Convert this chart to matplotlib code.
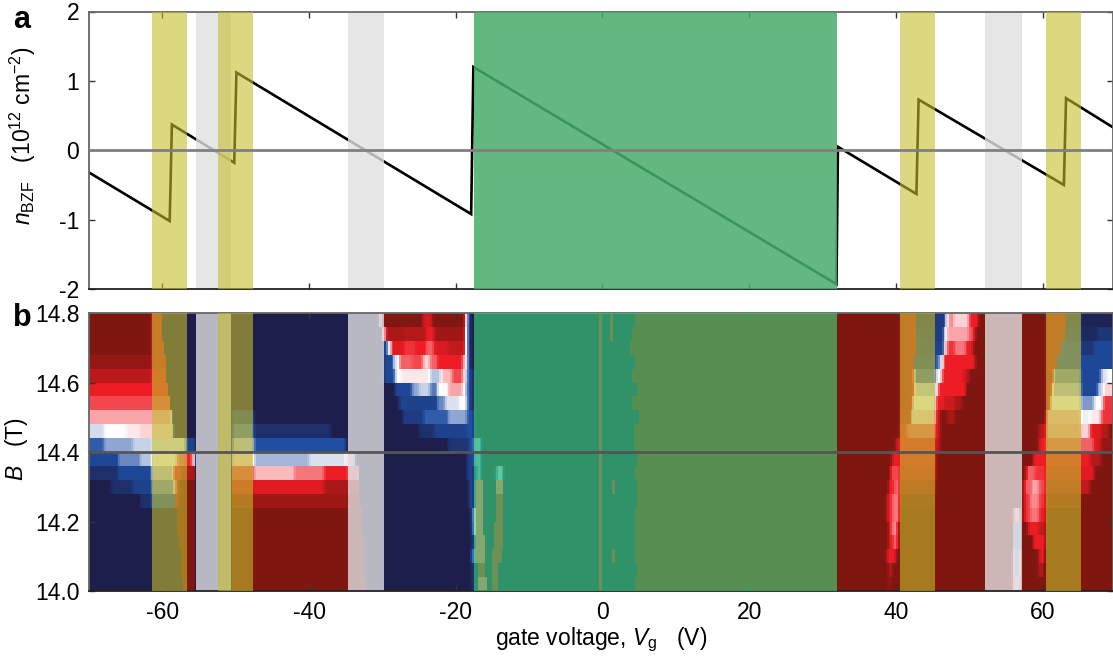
import numpy as np
import matplotlib
matplotlib.use('Agg')
import matplotlib.pyplot as plt
from matplotlib.colors import LinearSegmentedColormap

plt.rcParams['font.family'] = ['Liberation Sans', 'DejaVu Sans']
plt.rcParams['mathtext.fontset'] = 'custom'
plt.rcParams['mathtext.rm'] = 'Liberation Sans'
plt.rcParams['mathtext.it'] = 'Liberation Sans:italic'
plt.rcParams['axes.unicode_minus'] = False

# panel a: sawtooth of n_BZF against gate voltage
curve_v = [-70, -59, -58.7, -50.2, -49.9, -17.9, -17.6, 31.9, 32.1, 42.8, 43.1, 62.9, 63.2, 69.6]
curve_n = [-0.32, -1.02, 0.37, -0.18, 1.12, -0.92, 1.2, -1.93, 0.05, -0.63, 0.73, -0.5, 0.75, 0.33]

yellow_bands = [(-61.4, -56.6), (-52.4, -47.6), (40.5, 45.4), (60.5, 65.3)]
gray_bands = [(-55.4, -50.6), (-34.7, -29.8), (52.2, 57.2)]
green_band = (-17.5, 32)

x_ticks = [-60, -40, -20, 0, 20, 40, 60]
n_ticks = [-2, -1, 0, 1, 2]
b_ticks = [14.0, 14.2, 14.4, 14.6, 14.8]

# panel b: one list per field row, top to bottom, (end voltage, value) runs
left_rows = [
    [(-61.4, 1), (-60.05, .65), (-30.5, -1), (-30, 0), (-24.4, .98), (-23.2, .6), (-18.8, .98), (-18.5, .1), (-18, -.6), (-17.5, -1)],
    [(-61.4, 1), (-59.9, .65), (-30, -1), (-29.5, .1), (-27, .8), (-24, .75), (-23, .5), (-18.8, .85), (-18.4, 0), (-18, -.6), (-17.5, -1)],
    [(-61.4, 1), (-59.8, .65), (-29.8, -1), (-29.2, -.6), (-28.8, .1), (-27, .55), (-25.5, .45), (-24, .5), (-23, .35), (-21, .6), (-18.8, .7), (-18.4, 0), (-18, -.6), (-17.5, -1)],
    [(-61.4, .9), (-59.6, .65), (-29.8, -1), (-28.4, -.65), (-27.8, -.1), (-26, .35), (-24.5, .4), (-23.5, .1), (-22.5, .35), (-19, .5), (-18.5, .1), (-18, -.6), (-17.5, -1)],
    [(-61.4, .72), (-59.4, .55), (-29.8, -1), (-28.2, -.65), (-27.5, 0), (-23.5, .05), (-22, -.2), (-20.5, .15), (-19, .4), (-18.5, 0), (-18, -.6), (-17.5, -.8)],
    [(-59.2, .5), (-28.2, -1), (-26, -.65), (-25, -.3), (-23.5, -.15), (-22.5, -.45), (-21, 0), (-19, .2), (-18.5, -.1), (-18, -.6), (-17.5, -.8)],
    [(-58.9, .4), (-27.8, -1), (-25, -.7), (-22.5, -.7), (-21.5, -.4), (-19.5, -.1), (-18.5, 0), (-18, -.6), (-17.5, -.8)],
    [(-58.7, .2), (-50.6, -1), (-47.6, -.7), (-27.3, -1), (-24.5, -.75), (-21, -.55), (-18.5, -.3), (-17.5, -.6)],
    [(-68, -.12), (-65, 0), (-63, .05), (-58.5, .1), (-50.6, -1), (-47.6, -.5), (-37, -.85), (-25, -1), (-23, -.85), (-18.5, -.7), (-17.5, -.6)],
    [(-68, -.55), (-64, -.3), (-61.4, -.15), (-56.7, -.1), (-55.4, -.7), (-50.6, -1), (-47.6, -.2), (-35, -.6), (-21, -1), (-18.3, -.8), (-17.5, -.6)],
    [(-66, -.65), (-63, -.4), (-61.4, -.2), (-58, 0), (-56.7, .35), (-56, .5), (-55.4, .1), (-50.6, -1), (-47.6, .1), (-40, -.25), (-35, -.1), (-33.7, .1), (-18.5, -1), (-17.5, -.7)],
    [(-66, -.85), (-61.4, -.65), (-58.5, -.2), (-57.5, .5), (-55.4, .8), (-50.6, -1), (-47.6, .4), (-42, .15), (-38, .3), (-34.7, .5), (-33.3, .3), (-18.5, -1), (-17.5, -.7)],
    [(-67, -1), (-64, -.85), (-61.4, -.7), (-58.3, -.4), (-57.8, .6), (-55.4, 1), (-50.6, -1), (-47.6, .6), (-38, .55), (-33.2, .8), (-18.3, -1), (-17.5, -.7)],
    [(-63, -1), (-61.4, -.85), (-58.2, -.6), (-57.8, .8), (-55.4, 1), (-50.6, -1), (-47.6, .85), (-34.7, .85), (-33, 1), (-18.2, -1), (-17.5, -.7)],
    [(-58, -1), (-55.4, 1), (-50.6, -1), (-32.8, 1), (-18, -1), (-17.5, -.75)],
    [(-57.9, -1), (-55.4, 1), (-50.6, -1), (-32.7, 1), (-17.9, -1), (-17.5, -.8)],
    [(-57.7, -1), (-55.4, 1), (-50.6, -1), (-32.6, 1), (-17.8, -1), (-17.5, -.6)],
    [(-57.5, -1), (-55.4, 1), (-50.6, -1), (-32.5, 1), (-17.7, -1), (-17.5, 0)],
    [(-57.4, -1), (-55.4, 1), (-50.6, -1), (-32.4, 1), (-17.7, -1), (-17.5, -.7)],
    [(-57.3, -1), (-55.4, 1), (-50.6, -1), (-32.3, 1), (-17.7, -1), (-17.5, -.7)],
]

# where the navy under the green band turns dark red, per row
green_edge = [4.43, 3.97, 3.75, 4.43, 3.97, 4.66, 3.97, 4.9, 4.2, 4.2,
              4.66, 4.43, 4.66, 4.66, 4.43, 4.43, 4.43, 4.43, 4.66, 4.43]

# (row, start voltage, end voltage, value) streaks under the green band
green_streaks = [
    (0, 1.1, 1.6, .75), (9, -17.5, -16.5, -.35), (10, -17.5, -16.5, -.4), (11, -17.3, -16.4, -.4),
    (1, 1.1, 1.6, .75), (11, -14.6, -13.5, -.3), (12, -17.3, -16.3, .38), (12, -14.6, -13.5, .38), (12, 1.3, 1.8, .75),
    (13, -17.3, -16.3, .38), (13, -14.6, -13.5, .75), (14, -17.4, -16.3, .38), (14, -14.6, -13.5, .75),
    (15, -17.4, -16.2, .38), (15, -14.7, -13.6, .75), (16, -17.3, -16.1, .38), (16, -14.8, -13.6, .75),
    (17, -17.2, -16, .38), (17, -15, -13.8, .75), (17, 1.3, 1.8, .75), (18, -17.1, -15.9, .75),
    (18, -15.1, -14.2, .75), (19, -17.1, -15.8, .38), (19, -15.1, -14.3, .75),
]
zero_streak = (-0.6, 0.1, .75)

right_rows = [
    [(40.5, 1), (42.8, .7), (45.4, -.8), (46.8, -.75), (47.3, 0), (47.8, .3), (50, .1), (51.2, .5), (60.5, 1), (63.2, .7), (65.3, -.75), (69.7, -.95)],
    [(40.5, 1), (42.8, .7), (45.4, -.75), (46.5, -.75), (47, 0), (50, .2), (50.7, .4), (60.5, 1), (63, .7), (65.3, -.7), (67.5, -.9), (69.7, -.8)],
    [(40.5, 1), (42.8, .7), (45.4, -.7), (46.4, -.7), (46.9, .05), (48, .45), (49.5, .3), (50.5, .5), (60.5, 1), (62.5, .7), (65.3, -.6), (67, -.8), (69.7, -.65)],
    [(40.5, 1), (42.6, .7), (45.4, -.65), (46, -.5), (46.5, 0), (50.8, .5), (60.5, 1), (62.1, .7), (65.3, -.6), (69.7, -.65)],
    [(40.5, 1), (42.6, .7), (45.4, -.5), (46.2, 0), (49.2, .5), (50, .7), (60.5, 1), (61.6, .7), (65.3, -.4), (68, -.65), (68.8, -.1), (69.7, 0)],
    [(40.5, 1), (42.5, .7), (45.4, -.15), (45.8, 0), (49.6, .5), (60.5, 1), (61.2, .7), (65.3, -.2), (67.5, -.65), (68.3, -.2), (69.7, .1)],
    [(40.5, 1), (42.3, .7), (45.4, 0), (46.4, .5), (48, .65), (49, .8), (60.5, 1), (61, .7), (65.3, 0), (67, -.35), (68.2, 0), (69.7, .45)],
    [(40.5, 1), (42, .65), (45.4, .1), (46, .6), (47, 1), (48, .8), (60.5, 1), (65.3, .15), (66.5, -.05), (68, .05), (69.7, .45)],
    [(40.5, 1), (41.5, .5), (45.4, .35), (46, .6), (59.4, 1), (60.5, .7), (65.3, .2), (66.5, .1), (68, .55), (69, .75), (69.7, 1)],
    [(40, 1), (40.5, .6), (45.4, .5), (46, .7), (59.4, 1), (60.5, .5), (65.3, .35), (67, .35), (68, .6), (69.7, .9)],
    [(39.6, 1), (40.5, .5), (45.4, .55), (58.7, 1), (60.5, .5), (65.3, .5), (66.5, .5), (68, .75), (69.7, 1)],
    [(39.2, 1), (40.5, .4), (45.4, .6), (57.8, 1), (59, .35), (60.5, .45), (65.3, .6), (67, .55), (69.7, 1)],
    [(38.9, 1), (39.7, .5), (40.5, .35), (45.4, .75), (57.4, 1), (58.5, .35), (59.5, .2), (60.5, .4), (65.3, .7), (66.5, .7), (69.7, 1)],
    [(38.7, 1), (39.5, .5), (40.5, .3), (45.4, .95), (57.4, 1), (58.2, .45), (59.5, .25), (60.5, .45), (65.3, .85), (69.7, 1)],
    [(38.7, 1), (39.5, .5), (40.5, .3), (56, 1), (56.9, .1), (57.4, 1), (58.2, .45), (59.5, .3), (60.5, .5), (69.7, 1)],
    [(38.9, 1), (39.5, .5), (40.3, .25), (56, 1), (56.9, -.25), (58.1, 1), (59.5, .5), (60.5, .7), (69.7, 1)],
    [(39, 1), (39.7, .5), (40.3, .3), (55.9, 1), (56.9, -.25), (58.7, 1), (60.2, .5), (60.5, .8), (69.7, 1)],
    [(38.7, 1), (40, .5), (55.9, 1), (56.9, -.2), (59.4, 1), (60.2, .5), (69.7, 1)],
    [(38.9, 1), (39.6, .7), (55.9, 1), (56.9, -.2), (59.4, 1), (60, .7), (69.7, 1)],
    [(38.9, 1), (39.3, .8), (56, 1), (56.9, -.1), (69.7, 1)],
]

heat_cmap = LinearSegmentedColormap.from_list('bzf', [
    (0, '#1e1e4b'), (.2, '#1f4ea3'), (.5, '#ffffff'), (.75, '#ee1c25'), (1, '#7f1610')])

v_edges = np.arange(-70, 69.76, 0.25)
v_mid = (v_edges[:-1] + v_edges[1:]) / 2
b_edges = np.linspace(14.8, 14.0, len(left_rows) + 1)


def fill_runs(row, start, runs):
    for end, val in runs:
        row[(v_mid >= start) & (v_mid < end)] = val
        start = end


heat = np.zeros((len(left_rows), len(v_mid)))
for i in range(len(left_rows)):
    fill_runs(heat[i], -70, left_rows[i])
    fill_runs(heat[i], green_band[0], [(green_edge[i], -1), (green_band[1], 1)])
    fill_runs(heat[i], zero_streak[0], [(zero_streak[1], zero_streak[2])])
    fill_runs(heat[i], green_band[1], right_rows[i])
for i, v0, v1, val in green_streaks:
    fill_runs(heat[i], v0, [(v1, val)])

# soften along voltage, but navy to red jumps must not pass through white
for i in range(heat.shape[0]):
    padded = np.pad(heat[i], 1, mode='edge')
    soft = np.convolve(padded, [0.25, 0.5, 0.25], mode='valid')
    spread = np.abs(padded[2:] - padded[:-2])
    heat[i] = np.where(spread > 1.2, heat[i], soft)

fig = plt.figure(figsize=(11.13, 6.6), dpi=100)
W, H = 1113.0, 660.0
ax1 = fig.add_axes([89 / W, 1 - 289 / H, 1 - 89 / W, 277.5 / H])
ax2 = fig.add_axes([89 / W, 1 - 591 / H, 1 - 89 / W, 278 / H])

ax1.plot(curve_v, curve_n, color='black', lw=1.9, zorder=1, solid_joinstyle='miter')
ax1.axhline(0, color='#808080', lw=2, zorder=4)
ax2.pcolormesh(v_edges, b_edges, heat, cmap=heat_cmap, vmin=-1, vmax=1, zorder=1, linewidth=0, rasterized=True)
ax2.axhline(14.4, color='#555555', lw=2, zorder=4)

for ax in (ax1, ax2):
    for v0, v1 in gray_bands:
        ax.axvspan(v0, v1, color=(224 / 255, 224 / 255, 225 / 255), alpha=0.8, lw=0, zorder=2)
    for v0, v1 in yellow_bands:
        ax.axvspan(v0, v1, color=(196 / 255, 190 / 255, 44 / 255), alpha=0.6, lw=0, zorder=3)
ax1.axvspan(*green_band, color=(72 / 255, 173 / 255, 106 / 255), alpha=0.86, lw=0, zorder=3)
ax2.axvspan(*green_band, color=(60 / 255, 225 / 255, 125 / 255), alpha=0.6, lw=0, zorder=3)

ax1.set_xlim(-70, 69.6)
ax2.set_xlim(-70, 69.6)
ax1.set_ylim(-2, 2)
ax2.set_ylim(14.0, 14.8)
ax1.set_xticks(x_ticks)
ax1.set_xticklabels([])
ax2.set_xticks(x_ticks)
ax1.set_yticks(n_ticks)
ax2.set_yticks(b_ticks)
ax2.set_yticklabels(['%.1f' % b for b in b_ticks])

for ax in (ax1, ax2):
    ax.tick_params(direction='in', length=4, width=1, top=True, right=True, labelsize=16.5,
                   color='#333333', pad=7)
    for side in ('top', 'left', 'right'):
        ax.spines[side].set_color('#666666')
        ax.spines[side].set_linewidth(1.3)
    ax.spines['bottom'].set_color('#222222')
    ax.spines['bottom'].set_linewidth(1.3)

ax1.set_ylabel(r'$n_{\mathrm{BZF}}$   (10$^{12}$ cm$^{-2}$)', fontsize=16.5)
ax1.yaxis.set_label_coords(-0.05, 0.551)
ax2.set_ylabel(r'$B$   (T)', fontsize=16.5)
ax2.yaxis.set_label_coords(-0.0576, 0.51)
ax2.set_xlabel(r'gate voltage, $V_{\mathrm{g}}$   (V)', fontsize=16.5, labelpad=1.5)

fig.text(13 / W, 1 - 20 / H, 'a', fontsize=22, fontweight='bold', va='center')
fig.text(13 / W, 1 - 318 / H, 'b', fontsize=22, fontweight='bold', va='center')

fig.savefig('out.png', dpi=100)
